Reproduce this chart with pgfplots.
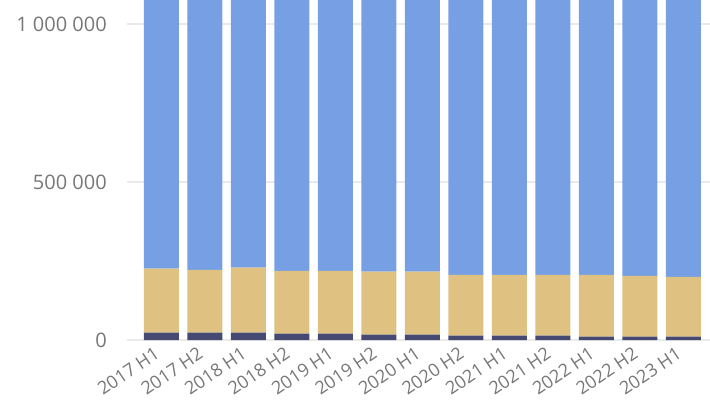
\documentclass[border=0pt]{standalone}
\usepackage{pgfplots}
\pgfplotsset{compat=1.18}
\usepackage{fontspec}
\setmainfont{Open Sans}
\definecolor{cblue}{HTML}{76A0E3}
\definecolor{ctan}{HTML}{DFC182}
\definecolor{cnavy}{HTML}{464A73}
\definecolor{cgrid}{HTML}{EAEAEA}
\definecolor{ctext}{HTML}{777777}

\begin{document}
\begin{tikzpicture}
\begin{axis}[
    name=ax,
    at={(0,0)}, anchor=south west,
    scale only axis,
    width=583pt, height=340pt,
    ybar stacked,
    bar width=35pt,
    xmin=-0.793, xmax=12.61,
    ymin=0, ymax=1075800,
    axis line style={draw=none},
    major tick length=0pt,
    xtick={0,...,12},
    xticklabels={2017 H1,2017 H2,2018 H1,2018 H2,2019 H1,2019 H2,2020 H1,2020 H2,2021 H1,2021 H2,2022 H1,2022 H2,2023 H1},
    ytick={0,500000,1000000},
    yticklabels={0,500 000,1 000 000},
    ymajorgrids,
    grid style={cgrid, line width=1.5pt},
    xticklabel style={xshift=-8pt, yshift=-6pt, rotate=34, anchor=north east, inner sep=0pt,
        font=\fontsize{18}{20}\selectfont, text=ctext},
    yticklabel style={anchor=east, inner sep=0pt, xshift=-20pt,
        font=\fontsize{20}{22}\selectfont, text=ctext},
    scaled y ticks=false,
    clip=true,
]
% navy
\addplot[fill=cnavy, draw=none] coordinates {
 (0,23700) (1,23700) (2,23700) (3,20500) (4,20500) (5,17000) (6,17000)
 (7,14000) (8,14000) (9,14000) (10,11000) (11,11000) (12,11000)};
% tan
\addplot[fill=ctan, draw=none] coordinates {
 (0,201800) (1,198300) (2,205000) (3,198500) (4,198500) (5,199000) (6,199000)
 (7,192000) (8,192000) (9,192000) (10,195000) (11,192000) (12,189000)};
% blue (top cut off)
\addplot[fill=cblue, draw=none] coordinates {
 (0,974500) (1,978000) (2,971300) (3,981000) (4,981000) (5,984000) (6,984000)
 (7,994000) (8,994000) (9,994000) (10,994000) (11,997000) (12,1000000)};
\end{axis}
\pgfresetboundingbox
\path ([shift={(-127pt,-62pt)}]ax.south west) rectangle (ax.north east);
\end{tikzpicture}
\end{document}
